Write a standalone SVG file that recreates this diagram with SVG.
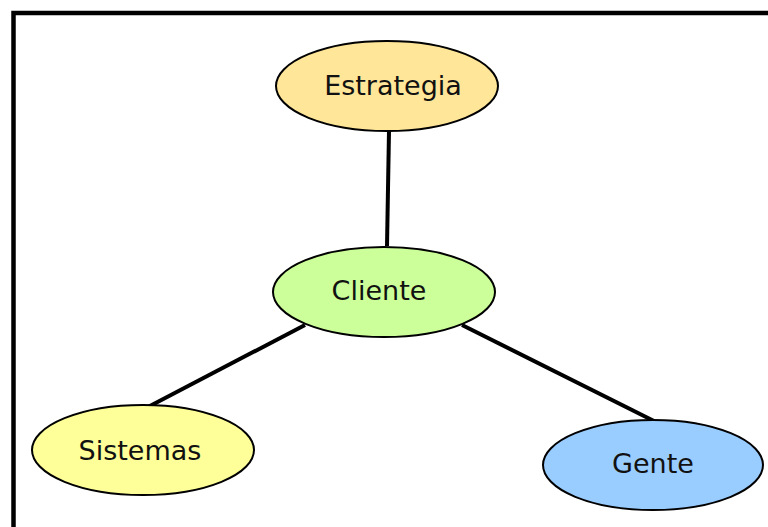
<svg xmlns="http://www.w3.org/2000/svg" width="768" height="527" viewBox="0 0 768 527">
<style>
.n{stroke:#000;stroke-width:2}
.t{font-family:"DejaVu Sans",sans-serif;font-size:27px;fill:#111;text-anchor:middle}
.c{stroke:#000;stroke-width:4;fill:none}
</style>
<rect width="768" height="527" fill="#fff"/>
<rect x="13.5" y="13" width="800" height="600" fill="none" stroke="#000" stroke-width="4.5"/>
<g id="connectors">
<line class="c" x1="389" y1="131" x2="387" y2="246"/>
<line class="c" x1="305" y1="325" x2="148" y2="407"/>
<line class="c" x1="462" y1="325" x2="654" y2="421"/>
</g>
<g id="estrategia">
<ellipse class="n" cx="387" cy="86" rx="111" ry="45" fill="#ffe699"/>
<text class="t" x="393" y="95">Estrategia</text>
</g>
<g id="cliente">
<ellipse class="n" cx="384" cy="292" rx="111" ry="45" fill="#ccff99"/>
<text class="t" x="379" y="300">Cliente</text>
</g>
<g id="sistemas">
<ellipse class="n" cx="143" cy="450" rx="111" ry="45" fill="#ffff99"/>
<text class="t" x="140" y="460">Sistemas</text>
</g>
<g id="gente">
<ellipse class="n" cx="653" cy="465" rx="110" ry="45" fill="#99ccff"/>
<text class="t" x="653" y="473">Gente</text>
</g>
</svg>
